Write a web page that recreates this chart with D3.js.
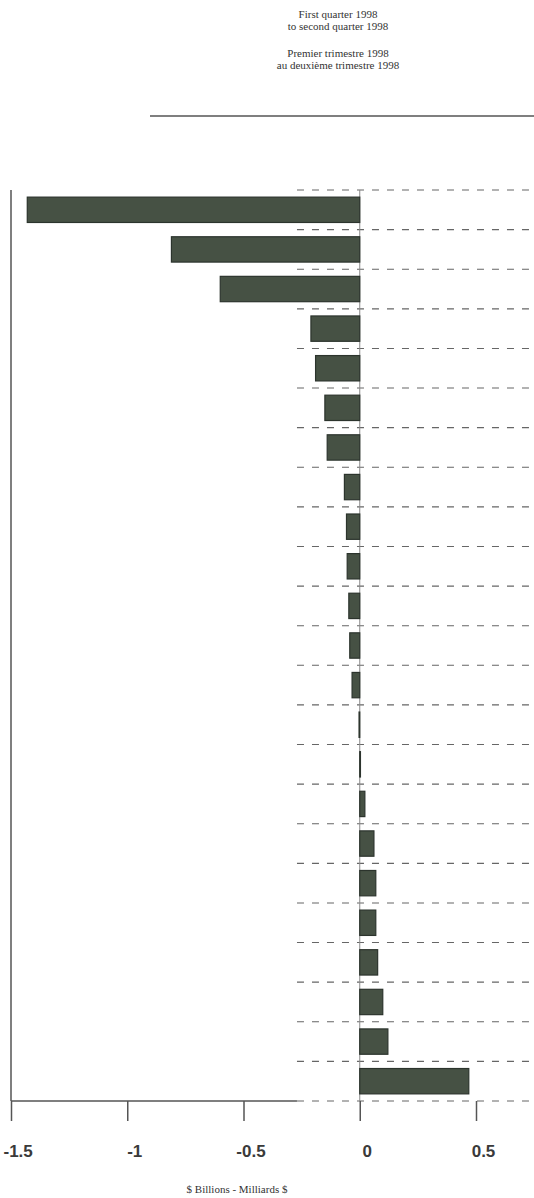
<!DOCTYPE html>
<html>
<head>
<meta charset="utf-8">
<script src="https://cdn.jsdelivr.net/npm/d3@7"></script>
<style>
  body { margin: 0; background: #fff; }
  svg { display: block; }
</style>
</head>
<body>
<svg id="chart"></svg>
<script>
// chart data (top bar to bottom bar)
const categories = ["1","2","3","4","5","6","7","8","9","10","11","12",
                    "13","14","15","16","17","18","19","20","21","22","23"];
const values = [-1.43, -0.81, -0.60, -0.21, -0.19, -0.15, -0.14, -0.066, -0.057, -0.054,
                -0.047, -0.043, -0.033, -0.003, 0.003, 0.022, 0.061, 0.069, 0.069, 0.077,
                0.099, 0.121, 0.469];
const tickValues = [-1.5, -1, -0.5, 0, 0.5];
const tickLabels = ["-1.5", "-1", "-0.5", "0", "0.5"];
const titleLines = ["First quarter 1998", "to second quarter 1998",
                    "Premier trimestre 1998", "au deuxième trimestre 1998"];
const axisTitle = "$ Billions -  Milliards $";

// Set the dimensions
const W = 534, H = 1198;
const plotTop = 190, plotBottom = 1101;
const gridStart = -0.27; // dashed guides start here (in $ billions)

const svg = d3.select("#chart")
    .attr("width", W)
    .attr("height", H);

const x = d3.scaleLinear()
    .domain([-1.5, 0.5])
    .range([11, 476]);

const y = d3.scaleBand()
    .domain(categories)
    .range([plotTop, plotBottom])
    .paddingInner(0.36)
    .paddingOuter(0.18);

// Title block
const title = svg.append("g")
    .attr("font-family", "'Liberation Serif', 'DejaVu Serif', serif")
    .attr("font-size", 11)
    .attr("fill", "#333")
    .attr("text-anchor", "middle");
const titleY = [18, 30, 57, 69];
title.selectAll("text")
    .data(titleLines)
    .enter().append("text")
    .attr("x", 338)
    .attr("y", (d, i) => titleY[i])
    .text(d => d);

// rule under the title
svg.append("line")
    .attr("x1", 150).attr("x2", W)
    .attr("y1", 116).attr("y2", 116)
    .attr("stroke", "#555")
    .attr("stroke-width", 1.5);

// dashed guides between the bars
const bounds = d3.range(categories.length + 1).map(i => plotTop + i * y.step());
svg.append("g")
    .selectAll("line")
    .data(bounds)
    .enter().append("line")
    .attr("x1", x(gridStart)).attr("x2", W)
    .attr("y1", d => d).attr("y2", d => d)
    .attr("stroke", "#666")
    .attr("stroke-width", 1.1)
    .attr("stroke-dasharray", "7,8");

// zero line
svg.append("line")
    .attr("x1", x(0)).attr("x2", x(0))
    .attr("y1", plotTop).attr("y2", plotBottom)
    .attr("stroke", "#888")
    .attr("stroke-width", 1);

// Add the bars
svg.selectAll(".bar")
    .data(values)
    .enter().append("rect")
    .attr("class", "bar")
    .attr("x", d => x(Math.min(0, d)))
    .attr("y", (d, i) => y(categories[i]))
    .attr("width", d => Math.abs(x(d) - x(0)))
    .attr("height", y.bandwidth())
    .attr("fill", "#465144")
    .attr("stroke", "#2c342d")
    .attr("stroke-width", 1.2);

// left axis line
svg.append("line")
    .attr("x1", x(-1.5)).attr("x2", x(-1.5))
    .attr("y1", plotTop).attr("y2", plotBottom)
    .attr("stroke", "#555")
    .attr("stroke-width", 1.5);

// solid part of the bottom axis
svg.append("line")
    .attr("x1", x(-1.5)).attr("x2", x(gridStart))
    .attr("y1", plotBottom).attr("y2", plotBottom)
    .attr("stroke", "#555")
    .attr("stroke-width", 1.5);

// Add the x-axis
const xAxis = svg.append("g")
    .attr("transform", `translate(0,${plotBottom})`)
    .call(d3.axisBottom(x)
        .tickValues(tickValues)
        .tickSize(20)
        .tickPadding(24)
        .tickFormat((d, i) => tickLabels[i]));

xAxis.select(".domain").remove();
xAxis.selectAll(".tick line")
    .attr("stroke", "#555")
    .attr("stroke-width", 1.5);
xAxis.selectAll(".tick text")
    .attr("font-family", "'Liberation Sans', Arial, sans-serif")
    .attr("font-size", 17)
    .attr("font-weight", "bold")
    .attr("fill", "#3a3a3a")
    .attr("dx", 7);
xAxis.selectAll(".tick")
    .filter(d => d === -1.5)
    .select("text")
    .attr("text-anchor", "start")
    .attr("dx", -8);

// axis title
svg.append("text")
    .attr("x", 237)
    .attr("y", 1193)
    .attr("text-anchor", "middle")
    .attr("font-family", "'Liberation Serif', 'DejaVu Serif', serif")
    .attr("font-size", 11)
    .attr("fill", "#333")
    .text(axisTitle);
</script>
</body>
</html>
